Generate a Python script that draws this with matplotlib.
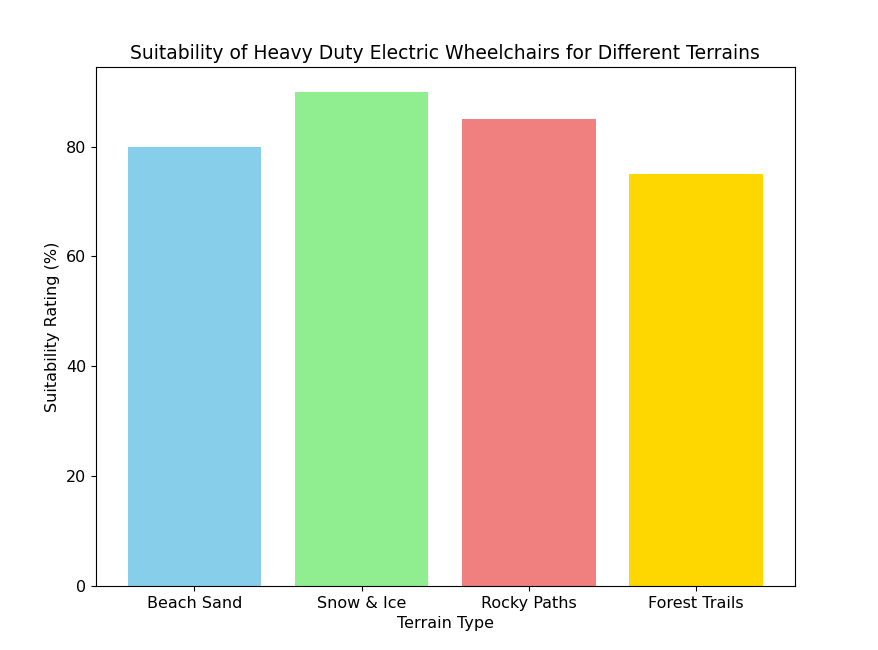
import matplotlib
matplotlib.use("Agg")
import matplotlib.pyplot as plt

terrains = ["Beach Sand", "Snow & Ice", "Rocky Paths", "Forest Trails"]
ratings = [80, 90, 85, 75]
colors = ["skyblue", "lightgreen", "lightcoral", "gold"]

fig = plt.figure(figsize=(8.79, 6.5), dpi=100)
ax = fig.add_axes([0.109, 0.0985, 0.795, 0.7985])
ax.bar(terrains, ratings, color=colors)
ax.set_title("Suitability of Heavy Duty Electric Wheelchairs for Different Terrains", fontsize=13.5)
ax.set_xlabel("Terrain Type", fontsize=11.5)
ax.set_ylabel("Suitability Rating (%)", fontsize=11.5)
ax.tick_params(labelsize=11.5)
fig.savefig("out.png", dpi=100)
